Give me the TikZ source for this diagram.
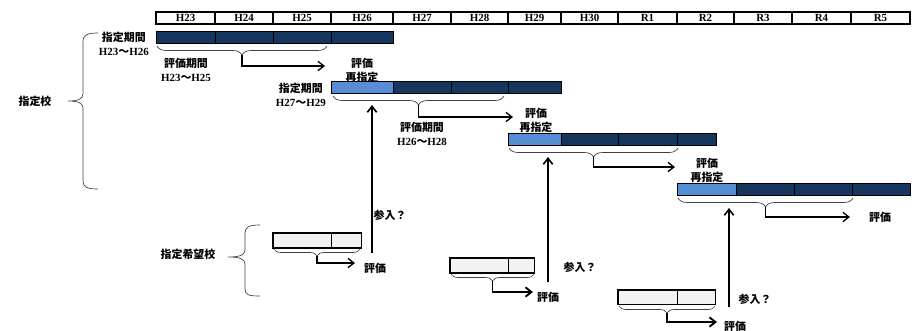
\documentclass[tikz,border=0pt]{standalone}
\usepackage{fontspec}
\setmainfont{Liberation Serif}
\newfontfamily\jp{Noto Sans CJK JP}
\usetikzlibrary{arrows.meta,decorations.pathreplacing}
\definecolor{barDark}{RGB}{23,54,93}
\definecolor{barLight}{RGB}{85,142,213}
\definecolor{boxGray}{RGB}{242,242,242}
\newcommand{\nami}{{\jp ～}}
\tikzset{
  yr/.style={draw, line width=0.9pt, minimum height=9pt, inner sep=0pt},
  seg/.style={draw, line width=0.6pt, minimum height=9pt, inner sep=0pt},
  dk/.style={seg, fill=barDark},
  lt/.style={seg, fill=barLight},
  wish/.style={draw, line width=0.5pt, fill=boxGray, minimum height=10.5pt, inner sep=0pt},
  curl/.style={draw=black!75, line width=0.5pt},
  brc/.style={curl, decorate, decoration={brace, mirror, amplitude=#1}},
  brc/.default=6.75pt,
  arr/.style={-{Straight Barb[length=4.5pt,width=7pt]}, line width=1pt},
  lbl/.style={inner sep=0pt, align=center},
}
\begin{document}
\begin{tikzpicture}[x=0.75pt, y=-0.75pt, font=\bfseries\fontsize{8.2}{10.5}\selectfont]
\useasboundingbox (0,0) rectangle (922,330);

% years
\foreach \xa/\xb/\lab in {156/215/H23,215/273/H24,273/331/H25,331/393/H26,393/451/H27,451/508/H28,508/561/H29,561/618/H30,618/677/R1,677/734/R2,734/792/R3,792/851/R4,851/910/R5}
  \node[yr, minimum width={(\xb-\xa)*0.75pt}] (h\lab) at ({(\xa+\xb)/2},18) {\lab};

% designation bars
\foreach \xa/\xb/\st [count=\i] in {156/215/dk,215/273/dk,273/331/dk,331/393/dk}
  \node[\st, minimum width={(\xb-\xa)*0.75pt}] (b1-\i) at ({(\xa+\xb)/2},37) {};
\foreach \xa/\xb/\st [count=\i] in {331/393/lt,393/451/dk,451/508/dk,508/561/dk}
  \node[\st, minimum width={(\xb-\xa)*0.75pt}] (b2-\i) at ({(\xa+\xb)/2},87) {};
\foreach \xa/\xb/\st [count=\i] in {508/561/lt,561/618/dk,618/677/dk,677/716/dk}
  \node[\st, minimum width={(\xb-\xa)*0.75pt}] (b3-\i) at ({(\xa+\xb)/2},139) {};
\foreach \xa/\xb/\st [count=\i] in {677/736/lt,736/794/dk,794/852/dk,852/910/dk}
  \node[\st, minimum width={(\xb-\xa)*0.75pt}] (b4-\i) at ({(\xa+\xb)/2},189) {};

% labels
\node[lbl, anchor=east] (p1) at (149,44) {{\jp 指定期間}\\H23\nami H26};
\node[lbl] (e1) at (186,70) {{\jp 評価期間}\\H23\nami H25};
\node[lbl] (r1) at (362,70) {{\jp 評価}\\{\jp 再指定}};
\node[lbl, anchor=east] (p2) at (326,95) {{\jp 指定期間}\\H27\nami H29};
\node[lbl] (e2) at (422,134) {{\jp 評価期間}\\H26\nami H28};
\node[lbl] (r2) at (536,120) {{\jp 評価}\\{\jp 再指定}};
\node[lbl] (r3) at (707,170) {{\jp 評価}\\{\jp 再指定}};
\node[lbl] (r4) at (880,217) {{\jp 評価}};
\node[lbl] (s1) at (35,101) {{\jp 指定校}};
\node[lbl] (s2) at (188,254) {{\jp 指定希望校}};

% evaluation brackets
\draw[brc] (157,46) -- (327,46);
\draw[brc] (333,96) -- (504,96);
\draw[brc] (509,148) -- (678,148);
\draw[brc] (678,198) -- (853,198);
\coordinate (t1) at (242,55);   \coordinate (a1) at (325,66);
\coordinate (t2) at (418.5,105); \coordinate (a2) at (513,117);
\coordinate (t3) at (593.5,157); \coordinate (a3) at (675,167);
\coordinate (t4) at (765.5,207); \coordinate (a4) at (850,217);
\draw[arr] (t1) |- (a1);
\draw[arr] (t2) |- (a2);
\draw[arr] (t3) |- (a3);
\draw[arr] (t4) |- (a4);

% group braces
\draw[curl] (98,33) .. controls (87,33) and (83,35) .. (83,42) -- (83,94) .. controls (83,99) and (78,101) .. (68,101) .. controls (78,101) and (83,103) .. (83,108) -- (83,181) .. controls (83,187) and (87,189) .. (98,189);
\draw[curl] (260,225) .. controls (249,225) and (245,227) .. (245,233) -- (245,250) .. controls (245,255) and (240,257) .. (228,257) .. controls (240,257) and (245,259) .. (245,264) -- (245,289) .. controls (245,295) and (249,296) .. (260,296);

% applicant schools
\node[wish, minimum width={58*0.75pt}] (w1a) at (302,240.5) {};
\node[wish, minimum width={30*0.75pt}] (w1b) at (346,240.5) {};
\node[wish, minimum width={58*0.75pt}] (w2a) at (479,265.5) {};
\node[wish, minimum width={26*0.75pt}] (w2b) at (521,265.5) {};
\node[wish, minimum width={59*0.75pt}] (w3a) at (647.5,297) {};
\node[wish, minimum width={38*0.75pt}] (w3b) at (696,297) {};
\draw[line width=1.2pt] (w1a.north west) rectangle (w1b.south east);
\draw[line width=1.2pt] (w2a.north west) rectangle (w2b.south east);
\draw[line width=1.2pt] (w3a.north west) rectangle (w3b.south east);

\draw[brc=5.25pt] (274,249) -- (360,249);
\draw[brc=5.25pt] (451,274) -- (534,274);
\draw[brc=5.25pt] (619,306) -- (715,306);
\coordinate (t5) at (317,256);   \coordinate (a5) at (355,263);
\coordinate (t6) at (492.5,281); \coordinate (a6) at (533,292);
\coordinate (t7) at (667,313);   \coordinate (a7) at (717,322);
\draw[arr] (t5) |- (a5);
\draw[arr, line width=1.4pt] (t6) |- (a6);
\draw[arr, line width=1.4pt] (t7) |- (a7);
\node[lbl] (k1) at (375,268) {{\jp 評価}};
\node[lbl] (k2) at (548,297) {{\jp 評価}};
\node[lbl] (k3) at (735,326) {{\jp 評価}};

% entry arrows
\coordinate (v1) at (372,253); \coordinate (u1) at (372,105);
\coordinate (v2) at (548,282); \coordinate (u2) at (548,157);
\coordinate (v3) at (729,307); \coordinate (u3) at (729,208);
\draw[arr, line width=1.2pt] (v1) -- (u1);
\draw[arr, line width=1.2pt] (v2) -- (u2);
\draw[arr, line width=1.2pt] (v3) -- (u3);
\node[lbl] (q1) at (390,215) {{\jp 参入？}};
\node[lbl] (q2) at (580,267) {{\jp 参入？}};
\node[lbl] (q3) at (755,299) {{\jp 参入？}};
\end{tikzpicture}
\end{document}
